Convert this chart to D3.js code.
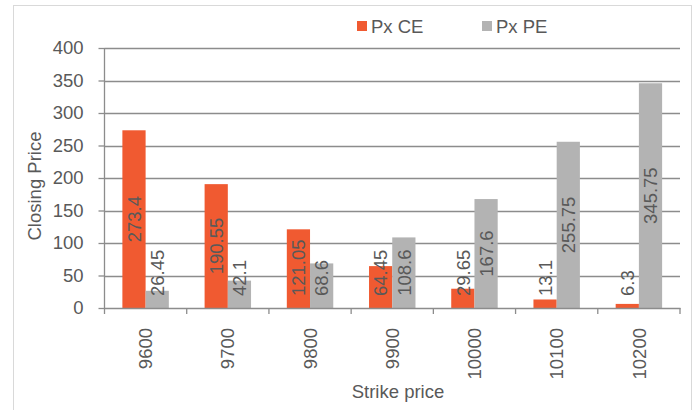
<!DOCTYPE html>
<html>
<head>
<meta charset="utf-8">
<script src="https://cdn.jsdelivr.net/npm/d3@7/dist/d3.min.js"></script>
<style>
  body { margin: 0; background: #fff; }
  text { font-family: "Liberation Sans", Arial, sans-serif; fill: #595959; }
</style>
</head>
<body>
<div id="chart"></div>
<script>
var strikes = ['9600', '9700', '9800', '9900', '10000', '10100', '10200'];
var pxCE = [273.4, 190.55, 121.05, 64.45, 29.65, 13.1, 6.3];
var pxPE = [26.45, 42.1, 68.6, 108.6, 167.6, 255.75, 345.75];
var seriesNames = ['Px CE', 'Px PE'];
var seriesColors = ['#f05a31', '#b3b3b3'];
var yTicks = [0, 50, 100, 150, 200, 250, 300, 350, 400];

var W = 695, H = 410;
var margin = {left: 104.5, right: 15, top: 48, bottom: 102};
var fs = 18.5;

var svg = d3.select('#chart').append('svg')
  .attr('width', W)
  .attr('height', H);

// outer frame
svg.append('rect')
  .attr('x', 13.5).attr('y', 5.5)
  .attr('width', 678).attr('height', 410)
  .attr('fill', 'none')
  .attr('stroke', '#d9d9d9');

var x = d3.scaleBand()
  .domain(strikes)
  .range([margin.left, W - margin.right]);

var x1 = d3.scaleBand()
  .domain(seriesNames)
  .range([0, x.bandwidth()])
  .paddingOuter(0.77);

var y = d3.scaleLinear()
  .domain([0, 400])
  .range([H - margin.bottom, margin.top]);

// gridlines
svg.append('g').selectAll('line')
  .data(yTicks.slice(1))
  .enter().append('line')
  .attr('x1', margin.left).attr('x2', W - margin.right)
  .attr('y1', function (d) { return Math.round(y(d)) + 0.5; })
  .attr('y2', function (d) { return Math.round(y(d)) + 0.5; })
  .attr('stroke', '#8c8c8c')
  .attr('stroke-width', 1.3);

// bars
var rows = strikes.map(function (s, i) {
  return {s: s, vals: [pxCE[i], pxPE[i]]};
});

var groups = svg.append('g').selectAll('g')
  .data(rows)
  .enter().append('g')
  .attr('transform', function (d) { return 'translate(' + x(d.s) + ',0)'; });

groups.selectAll('rect')
  .data(function (d) { return d.vals.map(function (v, j) { return {k: seriesNames[j], v: v, j: j}; }); })
  .enter().append('rect')
  .attr('x', function (d) { return x1(d.k); })
  .attr('width', x1.bandwidth())
  .attr('y', function (d) { return y(d.v); })
  .attr('height', function (d) { return y(0) - y(d.v); })
  .attr('fill', function (d) { return seriesColors[d.j]; });

// value labels, centred in bar but kept above the axis
groups.selectAll('text.val')
  .data(function (d) { return d.vals.map(function (v, j) { return {k: seriesNames[j], v: v, j: j}; }); })
  .enter().append('text')
  .attr('class', 'val')
  .attr('font-size', fs)
  .attr('text-anchor', 'middle')
  .text(function (d) { return d.v; })
  .each(function (d) {
    var len = this.getComputedTextLength();
    var cy = (y(d.v) + y(0)) / 2;
    cy = Math.min(cy, y(0) - 12 - len / 2);
    var cx = x1(d.k) + x1.bandwidth() / 2 + fs * 0.36;
    d3.select(this).attr('transform', 'translate(' + cx + ',' + cy + ') rotate(-90)');
  });

// y axis
var yAxis = svg.append('g')
  .attr('transform', 'translate(' + margin.left + ',0)')
  .call(d3.axisLeft(y).tickValues(yTicks).tickSize(6).tickPadding(15));
yAxis.select('.domain').attr('stroke', '#8c8c8c').attr('stroke-width', 1.3).attr('d', 'M0,' + y(0) + 'V' + y(400));
yAxis.selectAll('.tick line').attr('stroke', '#8c8c8c').attr('stroke-width', 1.3);
yAxis.selectAll('.tick text').attr('font-size', fs).attr('fill', '#595959')
  .style('font-family', '"Liberation Sans", Arial, sans-serif');

// x axis
var xAxis = svg.append('g')
  .attr('transform', 'translate(0,' + y(0) + ')')
  .call(d3.axisBottom(x).tickSize(0));
xAxis.select('.domain').attr('stroke', '#8c8c8c').attr('stroke-width', 1.3);
xAxis.selectAll('.tick text')
  .attr('font-size', fs).attr('fill', '#595959')
  .style('font-family', '"Liberation Sans", Arial, sans-serif')
  .attr('text-anchor', 'end')
  .attr('dy', null).attr('y', null)
  .attr('transform', 'translate(' + (fs * 0.36) + ',20) rotate(-90)');

// category separators
svg.append('g').selectAll('line')
  .data(strikes.concat(['end']))
  .enter().append('line')
  .attr('x1', function (d) { return d === 'end' ? W - margin.right : x(d); })
  .attr('x2', function (d) { return d === 'end' ? W - margin.right : x(d); })
  .attr('y1', y(0)).attr('y2', y(0) + 6)
  .attr('stroke', '#8c8c8c').attr('stroke-width', 1.3);

// axis titles
svg.append('text')
  .attr('font-size', fs)
  .attr('text-anchor', 'middle')
  .attr('transform', 'translate(41,186) rotate(-90)')
  .text('Closing Price');

svg.append('text')
  .attr('font-size', fs)
  .attr('text-anchor', 'middle')
  .attr('x', 398).attr('y', 398)
  .text('Strike price');

// legend
var legend = svg.append('g').selectAll('g')
  .data(seriesNames)
  .enter().append('g')
  .attr('transform', function (d, i) { return 'translate(' + (357 + i * 125) + ',21)'; });
legend.append('rect')
  .attr('width', 10).attr('height', 10)
  .attr('fill', function (d, i) { return seriesColors[i]; });
legend.append('text')
  .attr('x', 14).attr('y', 12)
  .attr('font-size', fs)
  .text(function (d) { return d; });
</script>
</body>
</html>
